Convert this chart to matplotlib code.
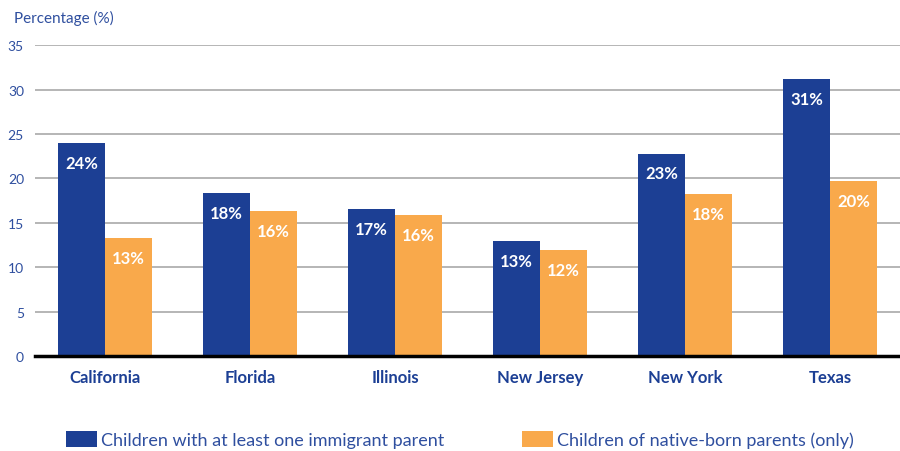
import numpy as np
import matplotlib.pyplot as plt

plt.rcParams['font.family'] = ['Lato', 'DejaVu Sans']

states = ['California', 'Florida', 'Illinois', 'New Jersey', 'New York', 'Texas']
immigrant = [24.0, 18.3, 16.5, 12.9, 22.8, 31.2]
native = [13.3, 16.3, 15.9, 11.9, 18.2, 19.7]
immigrant_labels = ['24%', '18%', '17%', '13%', '23%', '31%']
native_labels = ['13%', '16%', '16%', '12%', '18%', '20%']
yticks = [0, 5, 10, 15, 20, 25, 30, 35]

blue = '#1c3f94'
orange = '#f9a94b'
text_blue = '#2f4f9f'

fig = plt.figure(figsize=(9, 4.52), dpi=100)
ax = fig.add_axes([0.039, 0.21, 0.961, 0.688])

x = np.arange(len(states))
w = 0.324
b1 = ax.bar(x - w / 2, immigrant, w, color=blue, zorder=3,
            label='Children with at least one immigrant parent')
b2 = ax.bar(x + w / 2, native, w, color=orange, zorder=3,
            label='Children of native-born parents (only)')

# value labels inside the top of each bar
for rect, lab in zip(b1, immigrant_labels):
    ax.annotate(lab, (rect.get_x() + rect.get_width() / 2, rect.get_height()),
                xytext=(0, -8.5), textcoords='offset points', ha='center', va='top',
                color='white', fontsize=12, fontweight='bold', zorder=4)
for rect, lab in zip(b2, native_labels):
    ax.annotate(lab, (rect.get_x() + rect.get_width() / 2, rect.get_height()),
                xytext=(0, -8.5), textcoords='offset points', ha='center', va='top',
                color='white', fontsize=12, fontweight='bold', zorder=4)

ax.set_xlim(-0.483, len(states) - 1 + 0.483)
ax.set_ylim(0, 35)
ax.set_yticks(yticks)
ax.yaxis.grid(True, color='#b0b0b0', linewidth=1.3, zorder=0)
ax.set_axisbelow(True)

ax.set_xticks(x)
ax.set_xticklabels(states, fontsize=12, fontweight='bold', color=blue)
ax.tick_params(axis='x', length=0, pad=9)
ax.tick_params(axis='y', length=0, pad=8, labelsize=10, labelcolor=text_blue)

for s in ['top', 'right', 'left']:
    ax.spines[s].set_visible(False)
ax.spines['bottom'].set_color('black')
ax.spines['bottom'].set_linewidth(2.5)
ax.spines['bottom'].set_zorder(5)

fig.text(0.016, 0.96, 'Percentage (%)', fontsize=11, color=text_blue, va='center')

leg = fig.legend(handles=[b1, b2], loc='center left', bbox_to_anchor=(0.073, 0.025),
                 ncol=2, frameon=False, fontsize=13, handlelength=1.75, handleheight=0.95,
                 handletextpad=0.2, columnspacing=4.3, borderpad=0, borderaxespad=0,
                 labelcolor=text_blue)

fig.savefig('out.png', dpi=100)
